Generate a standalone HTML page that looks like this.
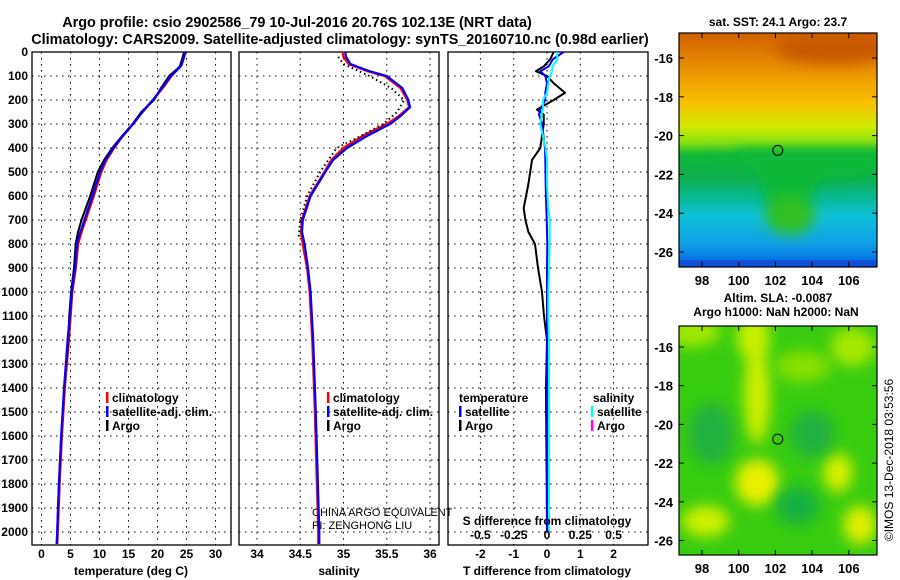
<!DOCTYPE html>
<html><head><meta charset="utf-8"><style>
body{margin:0;background:#fff}
svg{display:block;font-family:"Liberation Sans",sans-serif;font-weight:bold}
</style></head><body>
<svg id="fig" width="900" height="580" viewBox="0 0 900 580">
<defs>
<linearGradient id="sstg" x1="0" y1="0" x2="0" y2="1">
<stop offset="0" stop-color="#d06000"/><stop offset="0.1" stop-color="#e08000"/><stop offset="0.2" stop-color="#f0a000"/>
<stop offset="0.3" stop-color="#f8c000"/><stop offset="0.4" stop-color="#d0ea00"/><stop offset="0.47" stop-color="#88e010"/>
<stop offset="0.52" stop-color="#10b838"/><stop offset="0.62" stop-color="#10b050"/><stop offset="0.7" stop-color="#08b890"/>
<stop offset="0.78" stop-color="#10c0d8"/><stop offset="0.9" stop-color="#10a0e8"/><stop offset="1" stop-color="#0060e0"/>
</linearGradient>
<filter id="blur" x="-60%" y="-60%" width="220%" height="220%"><feGaussianBlur stdDeviation="7"/></filter>
<clipPath id="c1"><rect x="679" y="33" width="198" height="234"/></clipPath>
<clipPath id="c2"><rect x="679" y="326" width="198" height="229"/></clipPath>
</defs>
<text x="297" y="27" text-anchor="middle" font-size="14.4">Argo profile: csio 2902586_79 10-Jul-2016 20.76S 102.13E (NRT data)</text>
<text x="340" y="44" text-anchor="middle" font-size="14.4">Climatology: CARS2009. Satellite-adjusted climatology: synTS_20160710.nc (0.98d earlier)</text>
<g id="g"></g>
</svg>
<script>
// ---- data ----
const tDepth=[0,20,50,60,100,150,200,250,300,350,400,450,500,600,700,750,800,900,1000,1100,1200,1400,1600,1800,2000,2050];
const tClim=[24.6,24.4,24.0,23.9,22.4,20.9,19.2,17.4,15.8,14.0,12.5,11.2,10.3,9.0,7.6,6.9,6.3,5.9,5.3,5.0,4.7,4.0,3.5,3.1,2.8,2.7];
const tSat=[24.8,24.6,24.2,24.0,22.3,20.8,19.2,17.4,15.8,14.0,12.4,11.0,10.1,8.8,7.4,6.7,6.1,5.8,5.2,4.9,4.5,3.9,3.4,3.0,2.7,2.6];
const aDepth=[0,20,60,100,150,200,250,300,350,400,450,500,600,700,750,800,900,1000,1100,1200,1400,1600,1800,2000];
const tArgo=[24.6,24.4,23.9,22.0,20.6,19.4,17.2,15.7,13.9,12.2,10.8,9.7,8.4,6.9,6.3,5.9,5.6,5.1,4.8,4.6,3.9,3.4,3.0,2.7];
const sDepth=[0,20,50,80,100,150,200,230,270,300,350,400,450,500,600,700,750,800,900,1000,1200,1500,2000,2050];
const sClim=[34.99,35.0,35.06,35.28,35.48,35.66,35.74,35.76,35.63,35.50,35.22,35.0,34.86,34.78,34.61,34.52,34.51,34.53,34.58,34.61,34.64,34.67,34.71,34.71];
const sSat=[35.02,35.03,35.08,35.3,35.5,35.68,35.75,35.77,35.65,35.54,35.27,35.04,34.88,34.79,34.62,34.53,34.52,34.55,34.59,34.62,34.65,34.68,34.72,34.72];
const sArgoDepth=[20,50,100,150,200,250,300,350,400,500,600,700,780];
const sArgo=[34.94,35.0,35.3,35.55,35.7,35.62,35.46,35.2,34.92,34.73,34.58,34.5,34.48];
const dDepth=[0,30,60,80,100,130,170,200,240,260,300,400,450,550,650,700,750,800,900,1000,1100,1200,1400,1600,1800,2000];
const dTSat=[0.5,0.18,0.05,-0.2,-0.05,0.0,-0.05,-0.05,-0.2,-0.24,-0.15,-0.06,-0.05,-0.04,-0.02,-0.01,0,0.01,0,0,0,0,0,0,0,0];
const dTArgo=[0.2,0.1,-0.1,-0.33,0.0,0.2,0.54,0.2,-0.3,-0.1,-0.1,-0.2,-0.45,-0.56,-0.7,-0.65,-0.56,-0.36,-0.27,-0.15,-0.09,0.0,-0.03,-0.02,-0.01,0];
const dSSat=[0.07,0.08,0.04,0.04,0.02,0.01,0.0,-0.03,-0.03,-0.04,-0.05,-0.01,0.0,0.0,0.01,0.02,0.02,0.02,0.015,0.01,0.01,0.015,0.015,0.015,0.015,0.015];
const depthTicks=[0,100,200,300,400,500,600,700,800,900,1000,1100,1200,1300,1400,1500,1600,1700,1800,1900,2000];
const tTicks=[0,5,10,15,20,25,30];
const sTicks=[34,34.5,35,35.5,36];
const dtTicks=[-2,-1,0,1,2];
const dsTicks=[-0.5,-0.25,0,0.25,0.5];
const latTicks=[-16,-18,-20,-22,-24,-26];
const lonTicks=[98,100,102,104,106];

// ---- helpers ----
const NS='http://www.w3.org/2000/svg';
const G=document.getElementById('g');
function mk(tag,at,parent){const e=document.createElementNS(NS,tag);for(const k in at)e.setAttribute(k,at[k]);(parent||G).appendChild(e);return e;}
const Y0=52,YS=0.24;
const yD=d=>Y0+d*YS;
const PY1=545;
const xT=v=>41.5+v*5.8;
const xS=v=>257+(v-34)*86.5;
const xDT=v=>547+v*33.3;
const xDS=v=>547+v*133.2;

function panel(x0,x1,name){
  const r=mk('rect',{x:x0,y:Y0,width:x1-x0,height:PY1-Y0,fill:'none',stroke:'#000','stroke-width':1.3});
  
  
  depthTicks.forEach(d=>{if(d===0)return;
    const l=mk('line',{x1:x0,x2:x1,y1:yD(d),y2:yD(d),stroke:'#000','stroke-dasharray':'1.5 4.5','stroke-width':1});
    
    
  });
}
function vgrid(xs,fx,name){xs.forEach(v=>{
  const l=mk('line',{x1:fx(v),x2:fx(v),y1:Y0,y2:PY1,stroke:'#000','stroke-dasharray':'1.5 4.5','stroke-width':1});
  
  
});}
function ticklabels(xs,fx,fmt,y,name){xs.forEach(v=>{
  const t=mk('text',{x:fx(v),y:y,'text-anchor':'middle','font-size':12});t.textContent=fmt(v);
  
  
});}
function line(ds,vs,fx,col,w,name,dash){
  const p=mk('polyline',{points:ds.map((d,i)=>fx(vs[i]).toFixed(1)+','+yD(d).toFixed(1)).join(' '),fill:'none',stroke:col,'stroke-width':w,'stroke-linejoin':'round'});
  if(dash)p.setAttribute('stroke-dasharray',dash);
  
  
}
function txt(x,y,s,name,size,anchor,col){const t=mk('text',{x:x,y:y,'font-size':size||12,'text-anchor':anchor||'start',fill:col||'#000'});t.textContent=s;
  
  return t;}
function legend(x,y,items,pre){items.forEach((it,i)=>{
  const m=mk('rect',{x:x,y:y+i*14-10,width:2.5,height:11,fill:it[1]});
  
  
  txt(x+6,y+i*14,it[0],pre+'-legend-entry',12);
});}

depthTicks.forEach(d=>{txt(28,yD(d)+4,String(d),'depth-tick-label',12,'end');});

// Panel 1 temperature
panel(32,231,'temperature-panel');
vgrid(tTicks,xT,'temperature');
ticklabels(tTicks,xT,v=>String(v),558,'temperature');
txt(131,575,'temperature (deg C)','temperature-axis-title',12,'middle');
line(tDepth,tClim,xT,'#f00',2.5,'temperature-climatology-line');
line(aDepth,tArgo,xT,'#000',2,'temperature-argo-line');
line(tDepth,tSat,xT,'#00f',2.2,'temperature-satellite-line');
legend(106,402,[['climatology','#f00'],['satellite-adj. clim.','#00f'],['Argo','#000']],'temperature');

// Panel 2 salinity
panel(239,439,'salinity-panel');
vgrid(sTicks,xS,'salinity');
ticklabels(sTicks,xS,v=>String(v),558,'salinity');
txt(339,575,'salinity','salinity-axis-title',12,'middle');
line(sDepth,sClim,xS,'#f00',2.5,'salinity-climatology-line');
line(sDepth,sSat,xS,'#00f',2.2,'salinity-satellite-line');
line(sArgoDepth,sArgo,xS,'#000',2,'salinity-argo-line','1.5 3');
legend(327,402,[['climatology','#f00'],['satellite-adj. clim.','#00f'],['Argo','#000']],'salinity');
const c1=txt(312,516,'CHINA ARGO EQUIVALENT','float-program-label',11);c1.setAttribute('font-weight','normal');
const c2=txt(312,529,'PI: ZENGHONG LIU','float-pi-label',11);c2.setAttribute('font-weight','normal');

// Panel 3 differences
panel(448,648,'difference-panel');
vgrid(dtTicks,xDT,'difference');
ticklabels(dtTicks,xDT,v=>String(v),558,'t-difference');
txt(547,575,'T difference from climatology','t-difference-axis-title',12,'middle');
line(dDepth,dTArgo,xDT,'#000',2,'t-difference-argo-line');
line(dDepth,dTSat,xDT,'#00f',2,'t-difference-satellite-line');
line(dDepth,dSSat,xDS,'#0ff',2,'s-difference-satellite-line');
txt(459,402,'temperature','difference-legend-temperature-heading',12);
txt(593,402,'salinity','difference-legend-salinity-heading',12);
legend(459,416,[['satellite','#00f'],['Argo','#000']],'t-difference');
legend(591,416,[['satellite','#0ff'],['Argo','#f0f']],'s-difference');
txt(547,525,'S difference from climatology','s-difference-axis-title',12,'middle');
dsTicks.forEach(v=>{txt(xDS(v),539,String(v),'s-difference-tick-label',12,'middle');});

// ---- Maps ----
const lonX=lo=>702+(lo-98)*18.35;
const lat1=la=>58+(-16-la)*19.4;
const lat2=la=>347+(-16-la)*19.35;
function mapAxes(y0,y1,yLat,name){
  const r=mk('rect',{x:679,y:y0,width:198,height:y1-y0,fill:'none',stroke:'#000','stroke-width':1.2});
  
  
  latTicks.forEach(la=>{const y=yLat(la);
    mk('line',{x1:679,x2:684,y1:y,y2:y,stroke:'#000'});mk('line',{x1:872,x2:877,y1:y,y2:y,stroke:'#000'});
    txt(673,y+5,String(la),name+'-lat-label',13,'end');});
  lonTicks.forEach(lo=>{const x=lonX(lo);
    mk('line',{x1:x,x2:x,y1:y1,y2:y1-5,stroke:'#000'});mk('line',{x1:x,x2:x,y1:y0,y2:y0+5,stroke:'#000'});
    txt(x,y1+18,String(lo),name+'-lon-label',13,'middle');});
}
// SST map
const m1=mk('g',{'clip-path':'url(#c1)'});


mk('rect',{x:679,y:33,width:198,height:234,fill:'url(#sstg)'},m1);
mk('path',{d:'M670,150 L730,148 L760,180 L770,210 L800,215 L820,180 L860,175 L890,170 L890,150 L800,150 Z',fill:'#10b838',filter:'url(#blur)'},m1);
mk('ellipse',{cx:790,cy:215,rx:25,ry:20,fill:'#30c020',filter:'url(#blur)'},m1);
mk('ellipse',{cx:835,cy:48,rx:60,ry:16,fill:'#c85800',filter:'url(#blur)'},m1);
mk('rect',{x:679,y:260,width:198,height:7,fill:'#1050d8'},m1);
mk('circle',{cx:lonX(102.13),cy:lat1(-20.76),r:5,fill:'none',stroke:'#000'});
mapAxes(33,267,lat1,'sst-map');
txt(778,26,'sat. SST: 24.1 Argo: 23.7','sst-map-title',12,'middle');
// SLA map
const m2=mk('g',{'clip-path':'url(#c2)'});


mk('rect',{x:679,y:326,width:198,height:229,fill:'#38cc10'},m2);
[[97.5,-15.2,1.5,0.8,'#a0e800'],[100.8,-15.5,0.9,1.2,'#c8f000'],[101,-18.5,0.7,2.5,'#d0f000'],[101,-23,1.2,1.2,'#e8f000'],
 [106.2,-16,1.2,1,'#a8e800'],[105.4,-22.5,0.8,1,'#d8f000'],[106.6,-25.2,0.9,1,'#e0f000'],[98.2,-25,1.3,0.8,'#d0f000'],
 [104,-20.5,1.2,1.2,'#20b040'],[98.5,-20.5,1.2,1.6,'#20b040'],[103.2,-24.2,1.2,1,'#18b040'],[103.5,-17,1.5,0.8,'#88e000']].forEach(b=>{
  const e=mk('ellipse',{cx:lonX(b[0]),cy:lat2(b[1]),rx:b[2]*18.35,ry:b[3]*19.35,fill:b[4],filter:'url(#blur)'},m2);
  
  
});
mk('circle',{cx:lonX(102.13),cy:lat2(-20.76),r:5,fill:'none',stroke:'#000'});
mapAxes(326,555,lat2,'sla-map');
txt(778,302,'Altim. SLA: -0.0087','sla-map-title',12,'middle');
txt(776,316,'Argo h1000: NaN h2000: NaN','sla-map-subtitle',12,'middle');
const cr=txt(0,0,'©IMOS 13-Dec-2018 03:53:56','copyright-label',12,'middle');
cr.setAttribute('font-weight','normal');
cr.setAttribute('transform','translate(893,460) rotate(-90)');
</script>
</body></html>
